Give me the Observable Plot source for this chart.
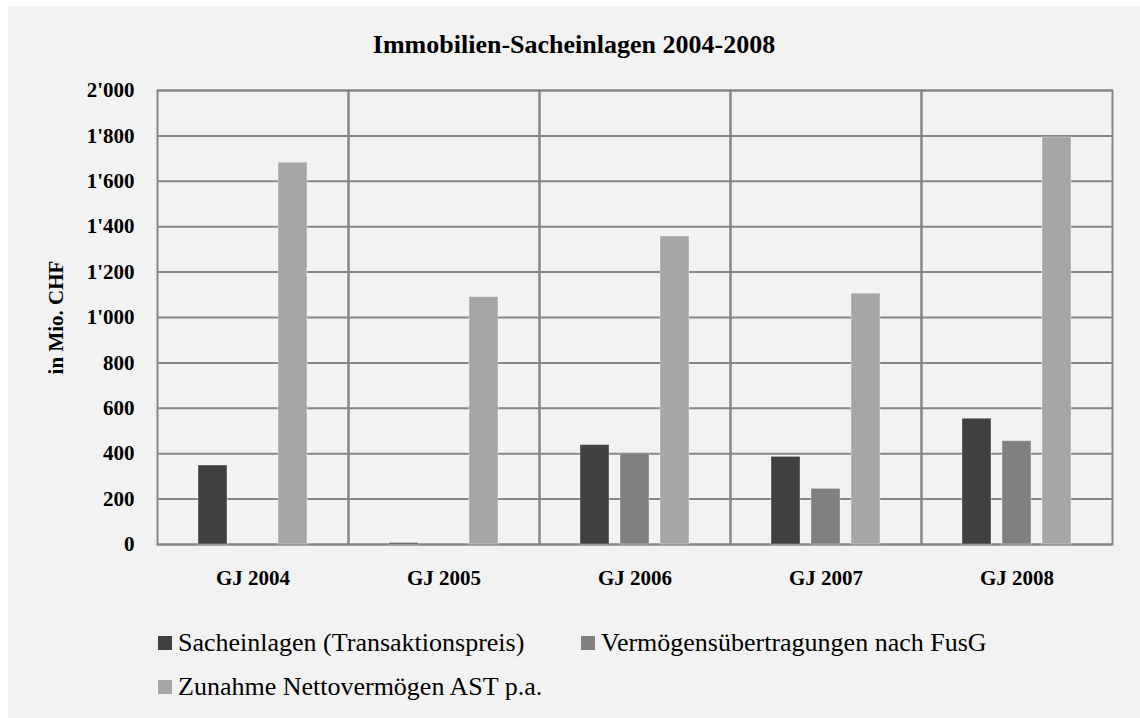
<!DOCTYPE html>
<html>
<head>
<meta charset="utf-8">
<script src="https://cdn.jsdelivr.net/npm/d3@7"></script>
<script src="https://cdn.jsdelivr.net/npm/@observablehq/plot@0.6"></script>
<style>
  html, body { margin: 0; padding: 0; background: #ffffff; }
  #box { position: absolute; left: 8px; top: 6px; width: 1132px; height: 712px; background: #f2f2f2; font-family: "Liberation Serif", "Times New Roman", serif; }
  #title { position: absolute; left: 0; top: 24px; width: 1132px; line-height: 30px; text-align: center; font-weight: bold; font-size: 26px; color: #000; }
  #chart { position: absolute; left: 0; top: 58px; }
  #legend { position: absolute; left: 150px; top: 622px; width: 980px; font-size: 26px; color: #000; }
  .item { position: absolute; white-space: nowrap; display: flex; align-items: center; height: 30px; line-height: 30px; }
  .sw { width: 14px; height: 14px; margin-right: 6px; display: inline-block; }
</style>
</head>
<body>
<div id="box">
  <div id="title">Immobilien-Sacheinlagen 2004-2008</div>
  <div id="chart"></div>
  <div id="legend"></div>
</div>
<script>
const categories = ["GJ 2004", "GJ 2005", "GJ 2006", "GJ 2007", "GJ 2008"];
const seriesNames = ["Sacheinlagen (Transaktionspreis)", "Vermögensübertragungen nach FusG", "Zunahme Nettovermögen AST p.a."];
const sacheinlagen = [348, 6, 438, 386, 554];
const vermoegensuebertragungen = [0, 0, 402, 245, 455];
const zunahme = [1682, 1090, 1357, 1105, 1793];
const yTicks = [0, 200, 400, 600, 800, 1000, 1200, 1400, 1600, 1800, 2000];
const colors = ["#404040", "#808080", "#a6a6a6"];

const seriesValues = [sacheinlagen, vermoegensuebertragungen, zunahme];
const data = [];
categories.forEach((c, i) => {
  seriesNames.forEach((s, j) => data.push({year: c, series: s, value: seriesValues[j][i]}));
});

const fmt = d => d >= 1000 ? d3.format(",")(d).replace(",", "'") : String(d);

const chart = Plot.plot({
  width: 1132,
  height: 546,
  marginTop: 26,
  marginBottom: 66,
  marginLeft: 149,
  marginRight: 28,
  style: {background: "transparent", fontFamily: "'Liberation Serif', 'Times New Roman', serif", color: "#000"},
  fx: {domain: categories, padding: 0},
  x: {domain: seriesNames, paddingInner: 0.275, paddingOuter: 1.025, axis: null},
  y: {domain: [0, 2000]},
  color: {domain: seriesNames, range: colors},
  marks: [
    Plot.ruleY(yTicks, {stroke: "#868686", strokeWidth: 2}),
    Plot.frame({stroke: "#868686", strokeWidth: 2}),
    Plot.barY(data, {fx: "year", x: "series", y: "value", fill: "series", stroke: "#ffffff", strokeOpacity: 0.35, strokeWidth: 1}),
    Plot.axisY({ticks: yTicks, tickFormat: fmt, tickSize: 0, tickPadding: 23, fontSize: 21, fontWeight: "bold",
                label: "in Mio. CHF", labelAnchor: "center", labelArrow: "none", labelOffset: 109}),
    Plot.axisFx({anchor: "bottom", tickSize: 0, tickPadding: 26, fontSize: 21, fontWeight: "bold", label: null})
  ]
});
document.getElementById("chart").appendChild(chart);
d3.select(chart).selectAll("[aria-label='y-axis label'] text").attr("font-size", 21).attr("font-weight", "bold");

const legend = document.getElementById("legend");
const pos = [[0, 0], [423, 0], [0, 44]];
seriesNames.forEach((s, j) => {
  const it = document.createElement("div");
  it.className = "item";
  it.style.left = pos[j][0] + "px";
  it.style.top = pos[j][1] + "px";
  it.innerHTML = `<span class="sw" style="background:${colors[j]}"></span><span>${s}</span>`;
  legend.appendChild(it);
});
</script>
</body>
</html>
